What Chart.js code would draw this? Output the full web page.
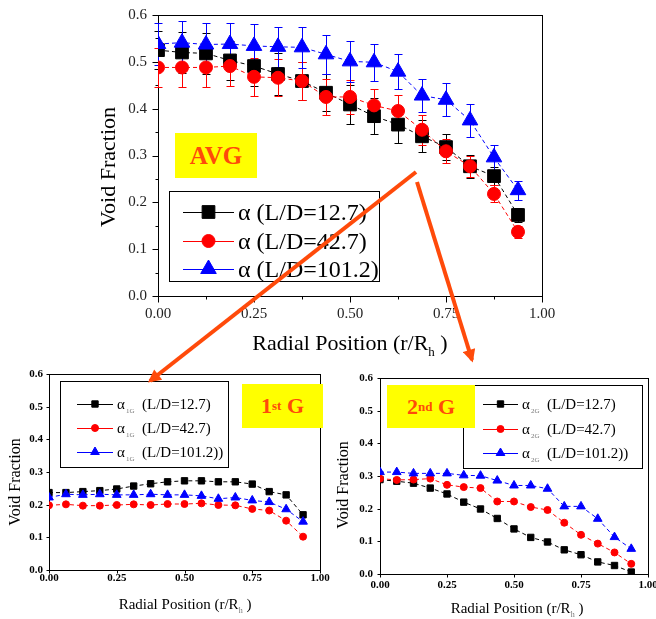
<!DOCTYPE html>
<html>
<head>
<meta charset="utf-8">
<script src="https://cdn.jsdelivr.net/npm/chart.js@4.4.1/dist/chart.umd.min.js"></script>
<style>
  body { margin: 0; width: 656px; height: 619px; overflow: hidden; background: #fff; position: relative; }
  canvas, .tag, svg { position: absolute; }
  .tag { background: #ffff00; color: #ff4a0a; font: bold 25px "Liberation Serif", serif;
         display: flex; align-items: center; justify-content: center; }
  .tag sup { font-size: 13px; line-height: 0; vertical-align: 9px; }
</style>
</head>
<body>
<canvas id="avgChart" width="560" height="360" style="left:0;top:0"></canvas>
<canvas id="firstChart" width="335" height="254" style="left:0;top:365px"></canvas>
<canvas id="secondChart" width="326" height="254" style="left:330px;top:365px"></canvas>

<div class="tag" style="left:175px;top:133px;width:82px;height:45px">AVG</div>
<div class="tag" style="left:242px;top:384px;width:81px;height:44px;font-size:22px">1<sup>st</sup>&nbsp;G</div>
<div class="tag" style="left:387px;top:385px;width:88px;height:43px;font-size:22px">2<sup>nd</sup>&nbsp;G</div>

<svg width="656" height="619" style="left:0;top:0">
  <defs>
    <marker id="head" viewBox="0 0 10 10" refX="8" refY="5" markerWidth="15" markerHeight="13"
            markerUnits="userSpaceOnUse" orient="auto">
      <path d="M0,0 L10,5 L0,10 z" fill="#ff4a0a"/>
    </marker>
  </defs>
  <line x1="416" y1="172" x2="150" y2="381" stroke="#ff4a0a" stroke-width="4" marker-end="url(#head)"/>
  <line x1="417" y1="182" x2="472" y2="360" stroke="#ff4a0a" stroke-width="4" marker-end="url(#head)"/>
</svg>

<script>
// radial stations r/Rh
const radial = [0, 0.0625, 0.125, 0.1875, 0.25, 0.3125, 0.375, 0.4375, 0.5, 0.5625, 0.625, 0.6875, 0.75, 0.8125, 0.875, 0.9375];

// averaged void fraction and its scatter
const avgLD127 = [0.525, 0.520, 0.518, 0.503, 0.491, 0.474, 0.459, 0.434, 0.409, 0.384, 0.366, 0.341, 0.318, 0.277, 0.256, 0.173];
const avgLD427 = [0.488, 0.488, 0.488, 0.491, 0.468, 0.466, 0.459, 0.425, 0.425, 0.407, 0.395, 0.355, 0.309, 0.277, 0.218, 0.137];
const avgLD1012 = [0.538, 0.541, 0.537, 0.538, 0.534, 0.532, 0.531, 0.516, 0.501, 0.499, 0.479, 0.428, 0.419, 0.375, 0.296, 0.226];
const errLD127 = [0.040, 0.043, 0.043, 0.042, 0.043, 0.045, 0.040, 0.040, 0.041, 0.039, 0.039, 0.034, 0.027, 0.025, 0.020, 0.015];
const errLD427 = [0.042, 0.042, 0.042, 0.042, 0.041, 0.040, 0.040, 0.039, 0.036, 0.036, 0.034, 0.032, 0.026, 0.022, 0.018, 0.013];
const errLD1012 = [0.044, 0.047, 0.045, 0.044, 0.046, 0.043, 0.044, 0.041, 0.044, 0.040, 0.037, 0.035, 0.035, 0.035, 0.026, 0.020];

// group 1 bubbles
const g1LD127 = [0.237, 0.237, 0.240, 0.243, 0.248, 0.257, 0.264, 0.270, 0.273, 0.273, 0.270, 0.270, 0.263, 0.240, 0.230, 0.169];
const g1LD427 = [0.198, 0.201, 0.197, 0.197, 0.199, 0.201, 0.199, 0.202, 0.202, 0.204, 0.199, 0.198, 0.187, 0.182, 0.151, 0.102];
const g1LD1012 = [0.222, 0.232, 0.230, 0.232, 0.230, 0.230, 0.232, 0.230, 0.230, 0.227, 0.218, 0.222, 0.213, 0.208, 0.186, 0.148];

// group 2 bubbles
const g2LD127 = [0.289, 0.284, 0.278, 0.263, 0.245, 0.220, 0.199, 0.170, 0.138, 0.112, 0.098, 0.074, 0.059, 0.037, 0.026, 0.006];
const g2LD427 = [0.292, 0.288, 0.289, 0.292, 0.273, 0.266, 0.263, 0.222, 0.222, 0.205, 0.196, 0.157, 0.120, 0.093, 0.066, 0.031];
const g2LD1012 = [0.312, 0.312, 0.308, 0.308, 0.308, 0.302, 0.301, 0.286, 0.271, 0.271, 0.261, 0.207, 0.207, 0.169, 0.113, 0.077];

const avgLabels = ['(L/D=12.7)', '(L/D=42.7)', '(L/D=101.2)'];
const groupLabels = ['(L/D=12.7)', '(L/D=42.7)', '(L/D=101.2))'];
const seriesColors = ['#000000', '#ff0000', '#0000ff'];
const seriesMarkers = ['rect', 'circle', 'triangle'];
const xTitle = 'Radial Position (r/R';
const yTitle = 'Void Fraction';
const serif = '"Liberation Serif", serif';

function points(values) {
  return radial.map((r, i) => ({ x: r, y: values[i] }));
}

function isMajor(v, step) {
  return Math.abs(v / step - Math.round(v / step)) < 1e-6;
}

// writes a run of text pieces (sizes / offsets differ for subscripts)
function textRun(ctx, parts, x, y, center) {
  let w = 0;
  parts.forEach(p => {
    ctx.font = p.s + 'px ' + serif;
    w += ctx.measureText(p.t).width;
  });
  let cx = center ? x - w / 2 : x;
  ctx.textAlign = 'left';
  ctx.textBaseline = 'alphabetic';
  parts.forEach(p => {
    ctx.font = p.s + 'px ' + serif;
    ctx.fillStyle = p.c || '#000';
    const px = p.at !== undefined ? x + p.at : cx;
    ctx.fillText(p.t, px, y + (p.dy || 0));
    cx = px + ctx.measureText(p.t).width;
  });
}

// box around the plot and outward tick marks
function frameAndTicks(major, minor) {
  return {
    id: 'frameAndTicks',
    beforeDatasetsDraw(chart) {
      const { ctx, chartArea: a, scales } = chart;
      const l = Math.round(a.left) + 0.5, r = Math.round(a.right) + 0.5;
      const t = Math.round(a.top) + 0.5, b = Math.round(a.bottom) + 0.5;
      ctx.save();
      ctx.strokeStyle = '#000';
      ctx.lineWidth = 1;
      ctx.strokeRect(l, t, r - l, b - t);
      ctx.beginPath();
      scales.x.ticks.forEach(tk => {
        const px = Math.round(scales.x.getPixelForValue(tk.value)) + 0.5;
        ctx.moveTo(px, b);
        ctx.lineTo(px, b + (tk.label ? major : minor));
      });
      scales.y.ticks.forEach(tk => {
        const py = Math.round(scales.y.getPixelForValue(tk.value)) + 0.5;
        ctx.moveTo(l, py);
        ctx.lineTo(l - (tk.label ? major : minor), py);
      });
      ctx.stroke();
      ctx.restore();
    }
  };
}

const errorBars = {
  id: 'errorBars',
  beforeDatasetsDraw(chart) {
    const { ctx, scales: { x, y } } = chart;
    chart.data.datasets.forEach(ds => {
      if (!ds.errors) return;
      ctx.save();
      ctx.strokeStyle = ds.borderColor;
      ctx.lineWidth = 1;
      ctx.beginPath();
      ds.data.forEach((p, i) => {
        const px = Math.round(x.getPixelForValue(p.x)) + 0.5;
        const top = Math.round(y.getPixelForValue(p.y + ds.errors[i])) + 0.5;
        const bot = Math.round(y.getPixelForValue(p.y - ds.errors[i])) + 0.5;
        ctx.moveTo(px, top); ctx.lineTo(px, bot);
        ctx.moveTo(px - 4, top); ctx.lineTo(px + 4, top);
        ctx.moveTo(px - 4, bot); ctx.lineTo(px + 4, bot);
      });
      ctx.stroke();
      ctx.restore();
    });
  }
};

function axisTitles(xt, yt) {
  return {
    id: 'axisTitles',
    afterDraw(chart) {
      const ctx = chart.ctx;
      ctx.save();
      textRun(ctx, xt.parts, xt.at[0], xt.at[1], true);
      ctx.translate(yt.at[0], yt.at[1]);
      ctx.rotate(-Math.PI / 2);
      textRun(ctx, yt.parts, 0, 0, true);
      ctx.restore();
    }
  };
}

// framed legend placed inside the plot
function boxLegend(box, rows, line, textX, rowParts) {
  return {
    id: 'boxLegend',
    afterDraw(chart) {
      const ctx = chart.ctx;
      ctx.save();
      ctx.fillStyle = '#fff';
      ctx.fillRect(box[0], box[1], box[2], box[3]);
      ctx.strokeStyle = '#000';
      ctx.lineWidth = 1;
      ctx.strokeRect(box[0] + 0.5, box[1] + 0.5, box[2], box[3]);
      chart.data.datasets.forEach((ds, i) => {
        const y = rows[i];
        ctx.strokeStyle = ds.borderColor;
        ctx.fillStyle = ds.backgroundColor;
        ctx.beginPath();
        ctx.moveTo(line[0], y + 0.5);
        ctx.lineTo(line[1], y + 0.5);
        ctx.stroke();
        Chart.helpers.drawPoint(ctx, { pointStyle: ds.pointStyle, radius: ds.pointRadius, borderWidth: 1, rotation: 0 },
          (line[0] + line[1]) / 2, y);
        textRun(ctx, rowParts(i), textX, y + rowParts(i)[0].s * 0.33, false);
      });
      ctx.restore();
    }
  };
}

function radialChart(id, sets, opt) {
  return new Chart(document.getElementById(id), {
    type: 'line',
    data: {
      datasets: sets.map((s, i) => ({
        label: s.label,
        data: points(s.values),
        errors: s.errors,
        borderColor: seriesColors[i],
        backgroundColor: seriesColors[i],
        borderWidth: 1,
        borderDash: [4, 3],
        pointStyle: seriesMarkers[i],
        pointRadius: opt.radius[i],
        pointBorderWidth: 1,
        order: 3 - i,
        clip: 0
      }))
    },
    options: {
      responsive: false,
      animation: false,
      events: [],
      layout: { padding: { top: opt.pad[0], right: opt.pad[1], bottom: 0, left: 0 } },
      plugins: { legend: { display: false }, tooltip: { enabled: false } },
      scales: {
        x: {
          type: 'linear', min: 0, max: 1,
          grid: { display: false, drawTicks: false }, border: { display: false },
          afterFit: s => { s.height = opt.axis[1]; s.paddingLeft = 0; s.paddingRight = 0; },
          ticks: {
            stepSize: opt.xStep, autoSkip: false, maxRotation: 0, padding: opt.tickPad[1],
            font: opt.tickFont, color: opt.tickColor,
            callback: v => isMajor(v, 0.25) ? v.toFixed(2) : ''
          }
        },
        y: {
          type: 'linear', min: 0, max: 0.6,
          grid: { display: false, drawTicks: false }, border: { display: false },
          afterFit: s => { s.width = opt.axis[0]; s.paddingTop = 0; s.paddingBottom = 0; },
          ticks: {
            stepSize: opt.yStep, autoSkip: false, padding: opt.tickPad[0],
            font: opt.tickFont, color: opt.tickColor,
            callback: v => isMajor(v, 0.1) ? v.toFixed(1) : ''
          }
        }
      }
    },
    plugins: [frameAndTicks(opt.ticks[0], opt.ticks[1]), errorBars, axisTitles(opt.xTitle, opt.yTitle), opt.legend]
  });
}

// averaged profile
radialChart('avgChart', [
  { label: 'L/D=12.7', values: avgLD127, errors: errLD127 },
  { label: 'L/D=42.7', values: avgLD427, errors: errLD427 },
  { label: 'L/D=101.2', values: avgLD1012, errors: errLD1012 }
], {
  pad: [15, 18], axis: [158, 64], tickPad: [11, 9], ticks: [6, 3],
  xStep: 0.125, yStep: 0.05, radius: [9, 6.5, 9],
  tickFont: { family: serif, size: 15 }, tickColor: '#222',
  xTitle: { at: [350, 350], parts: [{ t: xTitle, s: 22 }, { t: 'h', s: 13, dy: 6 }, { t: ' )', s: 22 }] },
  yTitle: { at: [115, 167], parts: [{ t: yTitle, s: 22 }] },
  legend: boxLegend([169, 191, 210, 90], [212, 241, 269], [183, 234], 238,
    i => [{ t: 'α', s: 24 }, { t: ' ' + avgLabels[i], s: 24 }])
});

// first bubble group
radialChart('firstChart', [
  { label: 'L/D=12.7', values: g1LD127 },
  { label: 'L/D=42.7', values: g1LD427 },
  { label: 'L/D=101.2', values: g1LD1012 }
], {
  pad: [9, 15], axis: [49, 49], tickPad: [6, 2], ticks: [3, 0],
  xStep: 0.25, yStep: 0.1, radius: [4.5, 3.5, 5],
  tickFont: { family: serif, size: 11, weight: 'bold' }, tickColor: '#000',
  xTitle: { at: [185, 244], parts: [{ t: xTitle, s: 15 }, { t: 'h', s: 8, dy: 4, c: '#777' }, { t: ' )', s: 15 }] },
  yTitle: { at: [20, 117], parts: [{ t: yTitle, s: 16 }] },
  legend: boxLegend([60, 16, 168, 86], [39, 63, 87], [77, 113], 117,
    i => [{ t: 'α', s: 15, at: 0 }, { t: '1G', s: 7, dy: 4, c: '#777', at: 9 }, { t: groupLabels[i], s: 15, at: 25 }])
});

// second bubble group
radialChart('secondChart', [
  { label: 'L/D=12.7', values: g2LD127 },
  { label: 'L/D=42.7', values: g2LD427 },
  { label: 'L/D=101.2', values: g2LD1012 }
], {
  pad: [13, 8], axis: [50, 45], tickPad: [7, 5], ticks: [3, 0],
  xStep: 0.25, yStep: 0.1, radius: [4.5, 3.5, 5],
  tickFont: { family: serif, size: 11, weight: 'bold' }, tickColor: '#000',
  xTitle: { at: [187, 248], parts: [{ t: xTitle, s: 15 }, { t: 'h', s: 8, dy: 4, c: '#777' }, { t: ' )', s: 15 }] },
  yTitle: { at: [18, 120], parts: [{ t: yTitle, s: 16 }] },
  legend: boxLegend([133, 20, 179, 83], [39, 64, 88], [153, 188], 192,
    i => [{ t: 'α', s: 15, at: 0 }, { t: '2G', s: 7, dy: 4, c: '#777', at: 9 }, { t: groupLabels[i], s: 15, at: 25 }])
});
</script>
</body>
</html>
